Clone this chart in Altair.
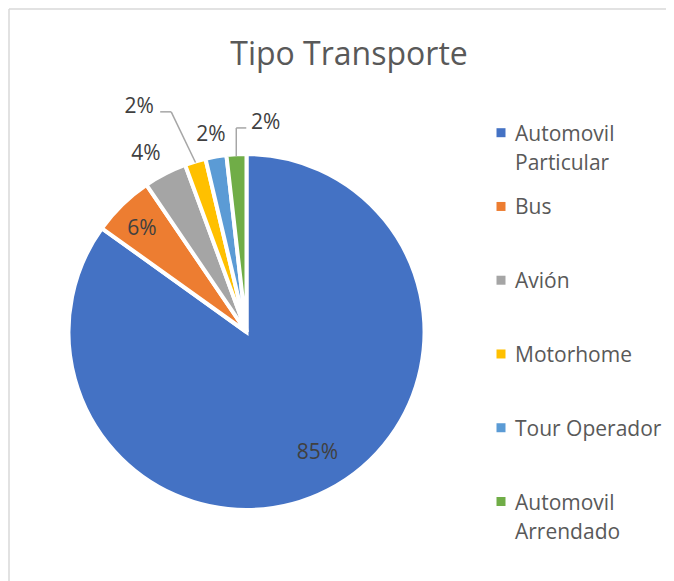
import altair as alt
import pandas as pd

# ---- data ----
categories = ["Automovil Particular", "Bus", "Avión", "Motorhome", "Tour Operador", "Automovil Arrendado"]
shares = [84.9, 5.6, 3.9, 1.9, 1.9, 1.8]
legend_labels = ["Automovil\nParticular", "Bus", "Avión", "Motorhome", "Tour Operador", "Automovil\nArrendado"]
colors = ["#4472C4", "#ED7D31", "#A5A5A5", "#FFC000", "#5B9BD5", "#70AD47"]
title_text = "Tipo Transporte"

df = pd.DataFrame({
    "cat": categories,
    "value": shares,
    "legend": legend_labels,
    "idx": list(range(len(categories))),
})

# ---- layout / style ----
FONT = "Open Sans"
CX, CY = 237.5, 323.0
R = 178
W, H = 657, 572

# label placement per category: (radius, dx, dy)
label_style = {
    "Automovil Particular": (140, 7, -3.5),
    "Bus": (147, -2, 2.5),
    "Avión": (205, -7, 4),
    "Motorhome": (251, -35, 15),
    "Tour Operador": (201, -1, 1.5),
    "Automovil Arrendado": (211, 31, 1.5),
}

color = alt.Color("cat:N", scale=alt.Scale(domain=categories, range=colors), legend=None)

base = alt.Chart(df)

pie = base.mark_arc(outerRadius=R, stroke="white", strokeWidth=4).encode(
    theta=alt.Theta("value:Q", stack=True),
    color=color,
    order=alt.Order("idx:Q"),
    x=alt.value(CX),
    y=alt.value(CY),
)

stacked = (
    base.transform_joinaggregate(total="sum(value)")
    .transform_window(cum="sum(value)", sort=[alt.SortField("idx", order="ascending")], frame=[None, 0])
    .transform_calculate(
        mid="2*PI*(datum.cum - datum.value/2)/datum.total",
        pct="format(datum.value/datum.total, '.0%')",
    )
)

# chart frame (left and top edges only, as in the reference)
frame_df = alt.Chart(pd.DataFrame({"edge": ["frame"]}))
frame_top = frame_df.mark_rule(color="#D9D9D9", strokeWidth=1.5).encode(
    x=alt.value(0), x2=alt.value(W), y=alt.value(0))
frame_left = frame_df.mark_rule(color="#D9D9D9", strokeWidth=1.5).encode(
    x=alt.value(0), y=alt.value(0), y2=alt.value(H))

# chart title as a text element
title_mark = alt.Chart(pd.DataFrame({"title": [title_text]})).mark_text(
    font=FONT, fontSize=32, color="#595959", align="center", baseline="alphabetic",
).encode(text="title:N", x=alt.value(340), y=alt.value(56))

layers = [frame_top, frame_left, title_mark, pie]
for cat, (r, dx, dy) in label_style.items():
    layers.append(
        stacked.transform_filter(alt.datum.cat == cat)
        .mark_text(radius=r, dx=dx, dy=dy, font=FONT, fontSize=21, color="#404040")
        .encode(
            theta=alt.Theta("mid:Q", scale=None, stack=None),
            text="pct:N",
            x=alt.value(CX),
            y=alt.value(CY),
        )
    )

LINE = dict(color="#A6A6A6", strokeWidth=1.5)


def leader(cat, x0_off, x1_off, y_off, edge_r):
    r, dx, dy = label_style[cat]
    return stacked.transform_filter(alt.datum.cat == cat).transform_calculate(
        lx=f"{CX} + {r}*sin(datum.mid) + {dx}",
        ly=f"{CY} - {r}*cos(datum.mid) + {dy}",
    ).transform_calculate(
        x0=f"datum.lx + {x0_off}",
        x1=f"datum.lx + {x1_off}",
        y0=f"datum.ly + {y_off}",
        ex=f"{CX} + {edge_r}*sin(datum.mid)",
        ey=f"{CY} - {edge_r}*cos(datum.mid)",
    )


# Motorhome leader: short horizontal then diagonal to slice
lm = leader("Motorhome", 21, 32, 5.2, 177)
layers.append(lm.mark_rule(**LINE).encode(
    x=alt.X("x0:Q", scale=None, axis=None), x2="x1:Q",
    y=alt.Y("y0:Q", scale=None, axis=None), y2="y0:Q"))
layers.append(lm.mark_rule(**LINE).encode(
    x=alt.X("x1:Q", scale=None, axis=None), x2="ex:Q",
    y=alt.Y("y0:Q", scale=None, axis=None), y2="ey:Q"))

# Automovil Arrendado leader: short horizontal then vertical down to slice
la = leader("Automovil Arrendado", -19.3, -29.3, 5.1, 176)
layers.append(la.mark_rule(**LINE).encode(
    x=alt.X("x0:Q", scale=None, axis=None), x2="x1:Q",
    y=alt.Y("y0:Q", scale=None, axis=None), y2="y0:Q"))
layers.append(la.mark_rule(**LINE).encode(
    x=alt.X("x1:Q", scale=None, axis=None), x2="x1:Q",
    y=alt.Y("y0:Q", scale=None, axis=None), y2="ey:Q"))

# ---- legend drawn as marks ----
leg_y = alt.Y("cat:N", scale=alt.Scale(domain=categories, range=[123.7, 492.5], padding=0), axis=None)
leg_sq = base.mark_square(size=81, opacity=1).encode(x=alt.value(492), y=leg_y, color=color)
leg_tx = base.mark_text(
    align="left", baseline="alphabetic", dy=8, font=FONT, fontSize=21,
    color="#595959", lineBreak="\n", lineHeight=29,
).encode(x=alt.value(506), y=leg_y, text="legend:N")
layers += [leg_sq, leg_tx]

chart = (
    alt.layer(*layers)
    .resolve_scale(x="independent", y="independent", theta="independent")
    .properties(
        width=W,
        height=H,
        autosize=alt.AutoSizeParams(type="none"),
        padding={"left": 1, "top": 1, "right": 0, "bottom": 0},
    )
    .configure_view(stroke="transparent")
)

chart.save("out.html", embed_options={"renderer": "svg", "actions": False})
